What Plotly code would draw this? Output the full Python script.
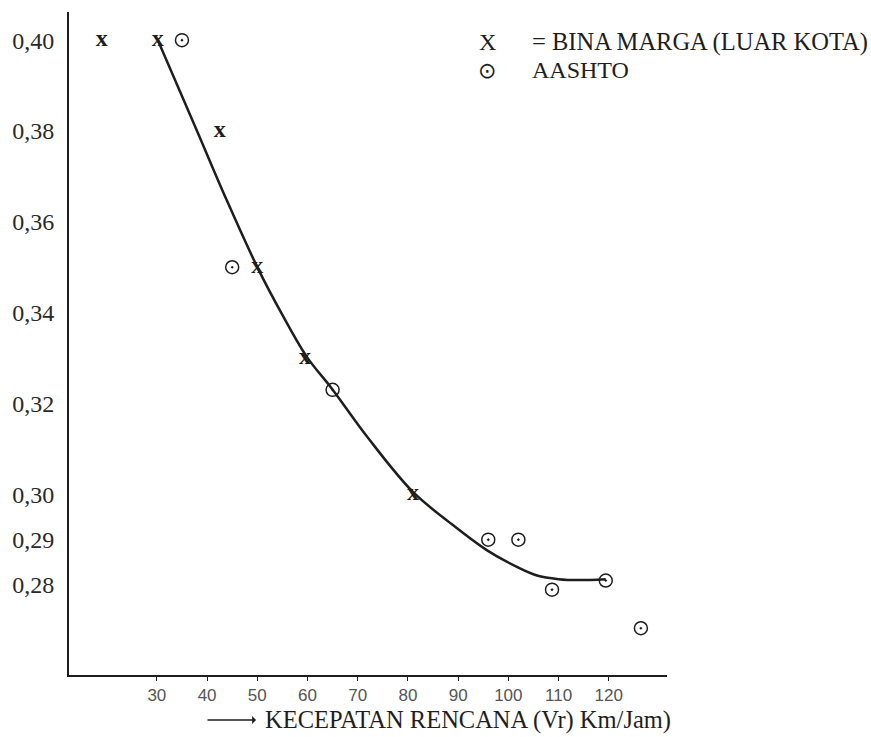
import plotly.graph_objects as go

# ---- data ----
bina_x = [19, 30.2, 42.5, 50, 59.5, 81]
bina_y = [0.40, 0.40, 0.38, 0.35, 0.33, 0.30]

aashto_x = [35, 45, 65, 96, 102, 108.7, 119.4, 126.4]
aashto_y = [0.40, 0.35, 0.323, 0.29, 0.29, 0.279, 0.281, 0.2705]

curve_x = [30.2, 38.0, 43.9, 50.1, 55.0, 59.9, 64.9, 72.0, 81.0, 88.4, 95.7, 101.7, 105.7, 110.0, 114.0, 119.4]
curve_y = [0.400, 0.3800, 0.3648, 0.3498, 0.3395, 0.3302, 0.3232, 0.3125, 0.3005, 0.2937, 0.2877, 0.2840, 0.2821, 0.2813, 0.2811, 0.2813]

x_ticks = [30, 40, 50, 60, 70, 80, 90, 100, 110, 120]
y_ticks = [0.28, 0.29, 0.30, 0.32, 0.34, 0.36, 0.38, 0.40]
y_ticktext = ["0,28", "0,29", "0,30", "0,32", "0,34", "0,36", "0,38", "0,40"]

legend_bina = "= BINA MARGA (LUAR KOTA)"
legend_aashto = "AASHTO"
x_title = "KECEPATAN RENCANA (Vr) Km/Jam)"

SERIF = "Liberation Serif"
INK = "#1e1e1e"

fig = go.Figure()

fig.add_trace(go.Scatter(
    x=curve_x, y=curve_y, mode="lines",
    line=dict(color=INK, width=2.5, shape="spline", smoothing=1.0),
    showlegend=False, hoverinfo="skip"))

fig.add_trace(go.Scatter(
    x=aashto_x, y=aashto_y, mode="markers",
    marker=dict(symbol="circle-open-dot", size=13, color=INK, line=dict(width=1.5, color=INK)),
    showlegend=False))

fig.add_trace(go.Scatter(
    x=bina_x, y=bina_y, mode="text", text=["x"] * len(bina_x),
    textposition="middle center",
    textfont=dict(family=SERIF, size=24, color=INK, weight="bold"),
    showlegend=False))

fig.update_xaxes(
    range=[12.5, 131.6], showgrid=False, zeroline=False,
    showline=True, linecolor=INK, linewidth=2,
    tickmode="array", tickvals=x_ticks,
    ticks="outside", ticklen=4, tickwidth=1, tickcolor=INK,
    ticklabelstandoff=0,
    tickfont=dict(family="Liberation Sans", size=17, color="#555555"),
)
fig.update_yaxes(
    range=[0.2602, 0.4062], showgrid=False, zeroline=False,
    showline=True, linecolor=INK, linewidth=2,
    tickmode="array", tickvals=y_ticks, ticktext=y_ticktext,
    ticks="", ticklabelstandoff=8,
    tickfont=dict(family=SERIF, size=24, color="#2a2a2a"),
)

W, H = 871, 737
L, R, T, B = 69, 204, 12, 62
pw, ph = W - L - R, H - T - B

def px(xp):
    return (xp - L) / pw

def py(yp):
    return (H - B - yp) / ph

annotations = [
    dict(text="X", x=px(487), y=py(42), xref="paper", yref="paper", showarrow=False,
         xanchor="center", yanchor="middle", font=dict(family=SERIF, size=24, color=INK)),
    dict(text=legend_bina, x=px(530), y=py(42), xref="paper", yref="paper", showarrow=False,
         xanchor="left", yanchor="middle", font=dict(family=SERIF, size=24.5, color=INK)),
    dict(text="⊙", x=px(487), y=py(70), xref="paper", yref="paper", showarrow=False,
         xanchor="center", yanchor="middle", font=dict(family="DejaVu Sans", size=22, color=INK)),
    dict(text=legend_aashto, x=px(530), y=py(70), xref="paper", yref="paper", showarrow=False,
         xanchor="left", yanchor="middle", font=dict(family=SERIF, size=24, color=INK)),
    dict(text=x_title, x=px(263), y=py(720), xref="paper", yref="paper", showarrow=False,
         xanchor="left", yanchor="middle", font=dict(family=SERIF, size=24.5, color=INK)),
    dict(text="", x=px(256), y=py(720), xref="paper", yref="paper", showarrow=True,
         ax=-50, ay=0, arrowhead=1, arrowsize=1, arrowwidth=1.3, arrowcolor=INK),
]

fig.update_layout(
    width=W, height=H,
    margin=dict(l=L, r=R, t=T, b=B),
    paper_bgcolor="white", plot_bgcolor="white",
    annotations=annotations,
    showlegend=False,
)

fig.write_html(
    "out.html",
    config={"displayModeBar": False},
    post_script="document.body.style.margin='0';document.body.style.overflow='hidden';",
)
